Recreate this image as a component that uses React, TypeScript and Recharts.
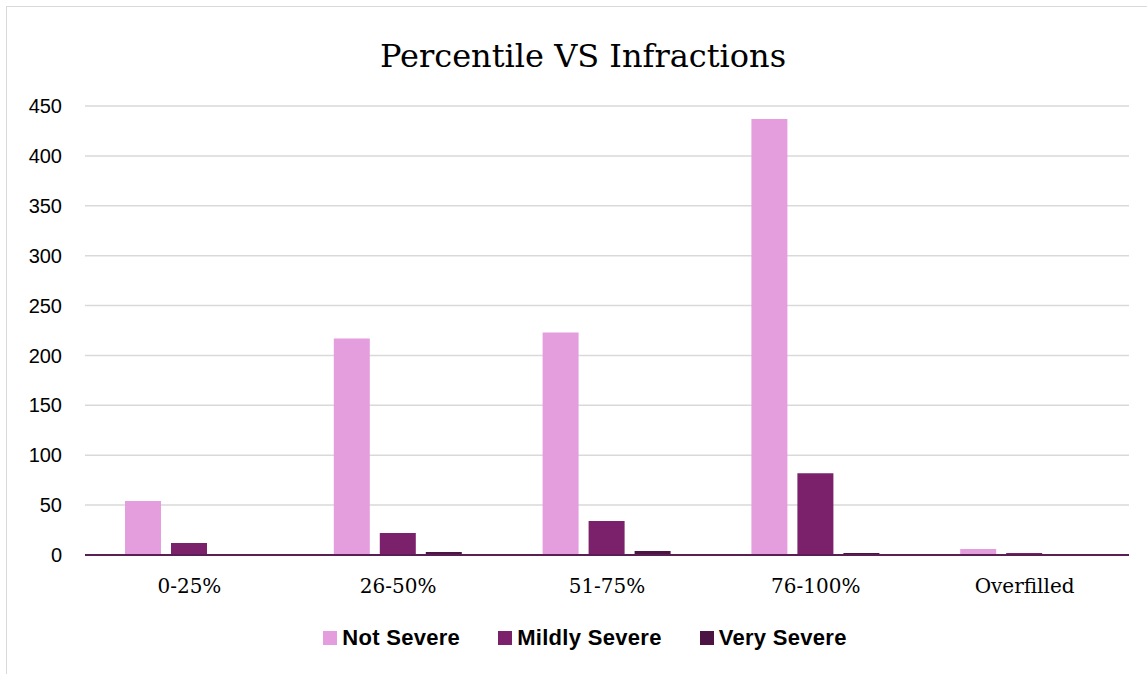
import { BarChart, Bar, XAxis, YAxis, CartesianGrid } from 'recharts';

const categories = ['0-25%', '26-50%', '51-75%', '76-100%', 'Overfilled'];
const notSevere = [54, 217, 223, 437, 6];
const mildlySevere = [12, 22, 34, 82, 2];
const verySevere = [0, 3, 4, 2, 0];
const yTicks = [0, 50, 100, 150, 200, 250, 300, 350, 400, 450];

const series = [
  { key: 'notSevere', name: 'Not Severe', color: '#e59edd' },
  { key: 'mildlySevere', name: 'Mildly Severe', color: '#7b206b' },
  { key: 'verySevere', name: 'Very Severe', color: '#4b1443' },
];

const data = categories.map((name, i) => ({
  name,
  notSevere: notSevere[i],
  mildlySevere: mildlySevere[i],
  verySevere: verySevere[i],
}));

const serif = '"DejaVu Serif", serif';
const sans = '"Liberation Sans", Arial, sans-serif';

export default function App() {
  return (
    <div style={{ position: 'absolute', left: 0, top: 0, width: 1147, height: 674, overflow: 'hidden', background: '#fff' }}>
      <div style={{ position: 'absolute', left: 6, top: 6, width: 1200, height: 700, border: '1.5px solid #d9d9d9' }} />
      <div style={{ position: 'absolute', left: 0, width: 1166, top: 38, textAlign: 'center', fontFamily: serif, fontSize: 32, lineHeight: '37px', color: '#000' }}>
        Percentile VS Infractions
      </div>
      <div style={{ position: 'absolute', left: 0, top: 0 }}>
        <BarChart width={1147} height={674} data={data}
          margin={{ top: 106, right: 18, left: 25, bottom: 89 }}
          barCategoryGap={40} barGap={10}>
          <CartesianGrid vertical={false} stroke="#d9d9d9" strokeWidth={1.5} />
          <XAxis dataKey="name" axisLine={{ stroke: '#5a1f52', strokeWidth: 2 }} tickLine={false}
            tickSize={0} tickMargin={24}
            tick={{ fontFamily: serif, fontSize: 20, fill: '#000' }} />
          <YAxis width={60} domain={[0, 450]} ticks={yTicks} axisLine={false} tickLine={false}
            tickSize={0} tickMargin={23}
            tick={{ fontFamily: sans, fontSize: 20, fill: '#000' }} />
          {series.map((s) => (
            <Bar key={s.key} dataKey={s.key} name={s.name} fill={s.color} isAnimationActive={false} />
          ))}
        </BarChart>
      </div>
      <div style={{ position: 'absolute', left: 0, width: 1170, top: 625, display: 'flex', justifyContent: 'center', gap: 38, fontFamily: sans, fontWeight: 'bold', fontSize: 22, letterSpacing: 0.3, color: '#000' }}>
        {series.map((s) => (
          <div key={s.key} style={{ display: 'flex', alignItems: 'center', gap: 5 }}>
            <span style={{ display: 'inline-block', width: 14, height: 14, background: s.color }} />
            <span>{s.name}</span>
          </div>
        ))}
      </div>
    </div>
  );
}
